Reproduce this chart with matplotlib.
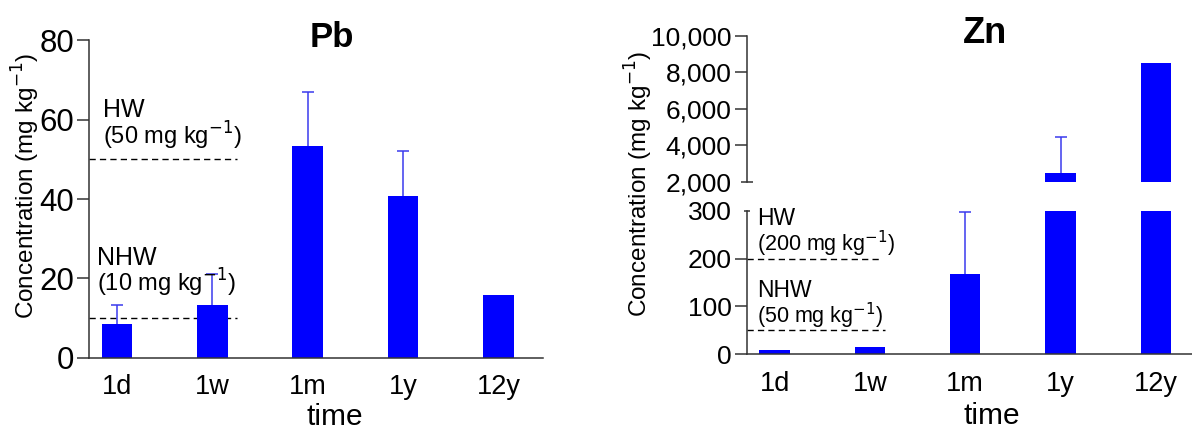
import matplotlib
matplotlib.use("Agg")
import matplotlib.pyplot as plt
from matplotlib.ticker import FuncFormatter
import numpy as np

plt.rcParams['font.family'] = ['Liberation Sans', 'DejaVu Sans']

# ---- data -------------------------------------------------------------
times = ["1d", "1w", "1m", "1y", "12y"]

pb_mean = [8.4, 13.4, 53.4, 40.7, 15.9]
pb_err_up = [5.0, 7.6, 13.6, 11.5, 0.0]
pb_hw = 50
pb_nhw = 10

zn_mean = [10, 16, 167, 2500, 8520]
zn_err_up = [0, 0, 130, 1970, 0]
zn_hw = 200
zn_nhw = 50

# ---- style -------------------------------------------------------------
BAR = "#0000ff"
ERR = "#3a3aee"
SPINE = "#333333"
W = 0.32

fig = plt.figure(figsize=(11.92, 4.30), dpi=100)

def style_axes(ax, ysize):
    for s in ("top", "right"):
        ax.spines[s].set_visible(False)
    for s in ("left", "bottom"):
        ax.spines[s].set_color(SPINE)
        ax.spines[s].set_linewidth(1.1)
    ax.tick_params(axis="y", length=9, width=1.1, color=SPINE, pad=2,
                   labelsize=ysize)
    ax.tick_params(axis="x", length=0, pad=12, labelsize=19.5)


def draw_bars(ax, mean, err):
    x = np.arange(len(mean))
    ax.bar(x, mean, width=W, color=BAR, edgecolor="none", zorder=2)
    m = np.array(err) > 0
    eb = ax.errorbar(x[m], np.array(mean)[m],
                     yerr=[np.zeros(m.sum()), np.array(err)[m]],
                     fmt="none", ecolor=ERR, elinewidth=1.1, capsize=4.2,
                     capthick=1.1, zorder=3)
    # one-sided whiskers: hide the cap sitting on the bar top
    caps = eb.lines[1]
    if len(caps) == 2:
        caps[0].set_visible(False)
    return x

# ---- Pb ---------------------------------------------------------------
ax = fig.add_axes([0.0749, 0.1681, 0.3809, 0.7381])
style_axes(ax, 22.5)
x = draw_bars(ax, pb_mean, pb_err_up)
ax.set_xlim(-0.29, 4.47)
ax.set_ylim(0, 80)
ax.set_yticks([0, 20, 40, 60, 80])
ax.set_xticks(x)
ax.set_xticklabels(times)
ax.axhline(pb_hw, xmin=0, xmax=0.325, color="black", lw=1.0,
           linestyle=(0, (4.5, 3)), zorder=1)
ax.axhline(pb_nhw, xmin=0, xmax=0.325, color="black", lw=1.0,
           linestyle=(0, (4.5, 3)), zorder=1)
ax.text(-0.147, 60.6, "HW", fontsize=18, va="baseline")
ax.text(-0.147, 53.6, "(50 mg kg$^{-1}$)", fontsize=17, va="baseline")
ax.text(-0.213, 23.3, "NHW", fontsize=18, va="baseline")
ax.text(-0.213, 16.6, "(10 mg kg$^{-1}$)", fontsize=17, va="baseline")
ax.set_xlabel("time", fontsize=21.5)
ax.xaxis.set_label_coords(0.541, -0.142)
fig.text(331.7 / 1192, 1 - 46.7 / 430, "Pb", fontsize=25, fontweight="bold",
         ha="center", va="baseline")
fig.text(42 / 1192, 1 - 186 / 430, "Concentration (mg kg$^{-1}$)",
         rotation=90, fontsize=17.5, ha="right", va="center")

# ---- Zn (broken axis) -------------------------------------------------
ax_lo = fig.add_axes([0.6264, 0.176, 0.3736, 0.334])
ax_hi = fig.add_axes([0.6264, 0.5774, 0.3736, 0.3388], sharex=ax_lo)
style_axes(ax_lo, 19)
style_axes(ax_hi, 19)

x = draw_bars(ax_lo, zn_mean, zn_err_up)
draw_bars(ax_hi, zn_mean, zn_err_up)

ax_lo.set_xlim(-0.294, 4.38)
ax_lo.set_ylim(0, 300)
ax_lo.set_yticks([0, 100, 200, 300])
ax_lo.set_xticks(x)
ax_lo.set_xticklabels(times)

ax_hi.set_ylim(2000, 10000)
ax_hi.set_yticks([2000, 4000, 6000, 8000, 10000])
ax_hi.yaxis.set_major_formatter(FuncFormatter(lambda v, p: f"{v:,.0f}"))
ax_hi.spines["bottom"].set_visible(False)
ax_hi.tick_params(axis="x", bottom=False, labelbottom=False)

# break marks at the ends of the two y spines
t = ax_lo.yaxis.get_major_ticks()[-1]
t.tick1line.set_marker("_")
t.tick1line.set_markersize(5)
t = ax_hi.yaxis.get_major_ticks()[0]
t.tick1line.set_marker("_")
t.tick1line.set_markersize(8)

ax_lo.axhline(zn_hw, xmin=0, xmax=0.30, color="black", lw=1.0,
              linestyle=(0, (4.5, 3)), zorder=1)
ax_lo.axhline(zn_nhw, xmin=0, xmax=0.31, color="black", lw=1.0,
              linestyle=(0, (4.5, 3)), zorder=1)
ax_lo.text(-0.183, 270, "HW", fontsize=16.5, va="baseline")
ax_lo.text(-0.183, 216, "(200 mg kg$^{-1}$)", fontsize=15.5, va="baseline")
ax_lo.text(-0.183, 120, "NHW", fontsize=16.5, va="baseline")
ax_lo.text(-0.183, 65, "(50 mg kg$^{-1}$)", fontsize=15.5, va="baseline")
ax_lo.set_xlabel("time", fontsize=21.5)
ax_lo.xaxis.set_label_coords(0.551, -0.335)
fig.text(985.5 / 1192, 1 - 43.3 / 430, "Zn", fontsize=26, fontweight="bold",
         ha="center", va="baseline")
fig.text(655 / 1192, 1 - 184 / 430, "Concentration (mg kg$^{-1}$)",
         rotation=90, fontsize=17.5, ha="right", va="center")

fig.savefig("out.png", dpi=100)
